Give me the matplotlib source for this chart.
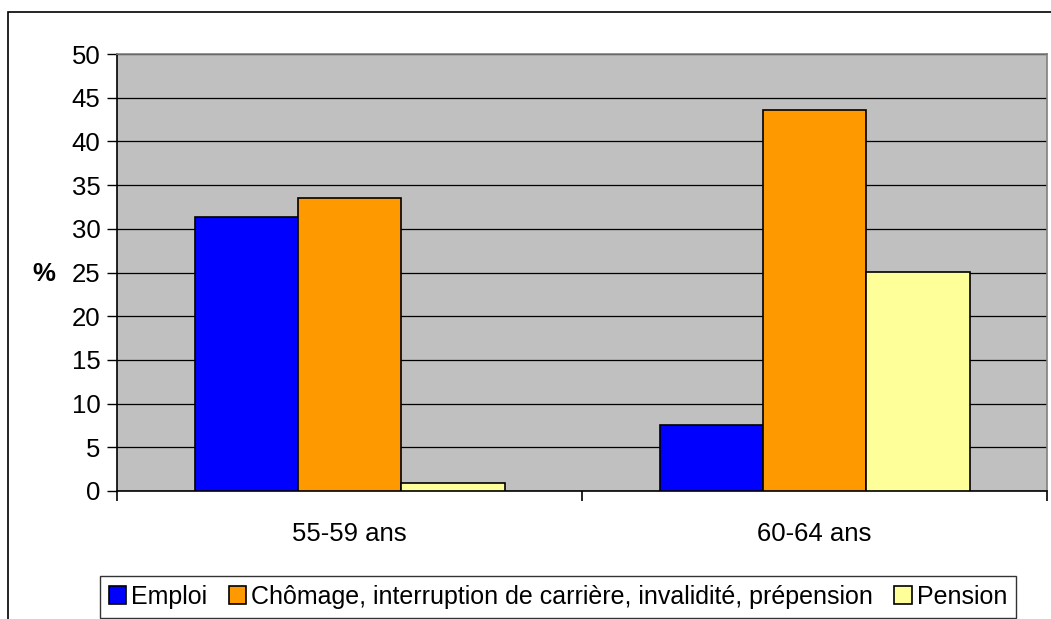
import numpy as np
import matplotlib.pyplot as plt
from matplotlib.patches import Rectangle

plt.rcParams['font.family'] = ['Liberation Sans', 'DejaVu Sans']

categories = ['55-59 ans', '60-64 ans']
series = ['Emploi', 'Chômage, interruption de carrière, invalidité, prépension', 'Pension']
emploi = [31.3, 7.6]
chomage = [33.5, 43.6]
pension = [0.9, 25.1]
colors = ['#0000FF', '#FF9900', '#FFFF99']

W, H = 1051, 619
fig = plt.figure(figsize=(W / 100, H / 100), dpi=100)
ax = fig.add_axes([117 / W, 1 - 491 / H, 930 / W, 437 / H])
ax.set_facecolor('#C0C0C0')

x = np.arange(len(categories))
w = 1 / 4.5
for i, (vals, c, lab) in enumerate(zip([emploi, chomage, pension], colors, series)):
    ax.bar(x + (i - 1) * w, vals, width=w, color=c, edgecolor='black',
           linewidth=1.2, label=lab, zorder=3)

ax.set_xlim(-0.5, 1.5)
ax.set_ylim(0, 50)
ax.set_yticks(np.arange(0, 51, 5))
ax.yaxis.grid(True, color='black', linewidth=0.9, zorder=1)
ax.set_axisbelow(True)

ax.set_xticks(x)
ax.set_xticklabels(categories, fontsize=18.5)
ax.tick_params(axis='x', length=0, pad=22)
ax.set_xticks([-0.5, 0.5, 1.5], minor=True)
ax.tick_params(axis='x', which='minor', length=7, width=1.2, color='black', direction='out')
ax.tick_params(axis='y', length=7, width=1, color='black', labelsize=18.5, pad=5)

for s in ['left', 'bottom']:
    ax.spines[s].set_color('black')
    ax.spines[s].set_linewidth(1.2)
for s in ['top', 'right']:
    ax.spines[s].set_color('#808080')
    ax.spines[s].set_linewidth(1.2)

ax.set_ylabel('%', rotation=0, fontsize=18.5, fontweight='bold')
ax.yaxis.set_label_coords(-0.079, 0.47)

# cadre extérieur
fig.patches.append(Rectangle((8 / W, -0.1), 1.2, 1 - 12 / H + 0.1, transform=fig.transFigure,
                             fill=False, edgecolor='black', linewidth=1.2, clip_on=False))

leg = fig.legend(loc='upper left', bbox_to_anchor=(100 / W, 1 - 576 / H), ncol=3,
                 fontsize=18, frameon=True, fancybox=False, edgecolor='black',
                 handlelength=0.7, handleheight=0.7, handletextpad=0.2,
                 columnspacing=0.85, borderpad=0.35, borderaxespad=0)
leg.get_frame().set_linewidth(1)

fig.savefig('out.png', dpi=100)
